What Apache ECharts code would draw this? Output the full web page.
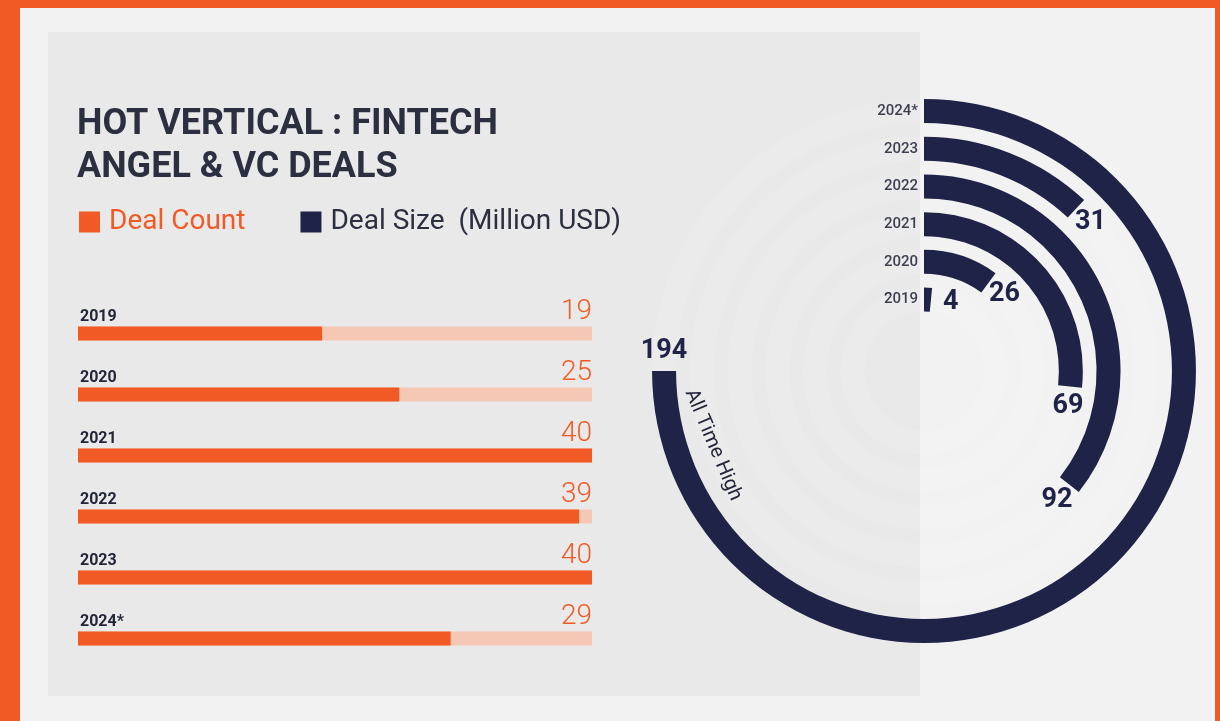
<!DOCTYPE html>
<html>
<head>
<meta charset="utf-8">
<title>Hot Vertical: Fintech — Angel & VC Deals</title>
<script src="https://cdn.jsdelivr.net/npm/echarts@6/dist/echarts.min.js"></script>
<style>
  html, body { margin: 0; padding: 0; background: #f2f2f2; }
  #chart { width: 1220px; height: 721px; }
</style>
</head>
<body>
<div id="chart"></div>
<script>
// Years shown on both panels
const years = ['2019', '2020', '2021', '2022', '2023', '2024*'];
// Number of angel & VC fintech deals per year
const dealCount = [19, 25, 40, 39, 40, 29];
// Deal size per year, million USD
const dealSize = [4, 26, 69, 92, 31, 194];
// Full length of each count track
const countMax = 40;
// Sweep (degrees) of the largest ring
const ringSweep = 270;

const ORANGE = '#f15a24';
const ORANGE_PALE = '#f5c8b5';
const NAVY = '#1f2347';
const INK = '#23263a';
const FONT = 'Roboto, "Noto Sans", "DejaVu Sans", sans-serif';

const sizeAxisMax = Math.max.apply(null, dealSize) * 360 / ringSweep;

const chart = echarts.init(document.getElementById('chart'), null, { renderer: 'canvas' });

chart.setOption({
  backgroundColor: '#f2f2f2',
  animation: false,
  textStyle: { fontFamily: FONT },
  title: {
    text: 'HOT VERTICAL : FINTECH\nANGEL & VC DEALS',
    left: 77,
    top: 103,
    padding: 0,
    textStyle: {
      fontFamily: FONT,
      fontSize: 36,
      fontWeight: 'bold',
      lineHeight: 43,
      color: '#2c2f40'
    }
  },
  legend: {
    left: 79,
    top: 208,
    padding: 0,
    icon: 'rect',
    itemWidth: 21,
    itemHeight: 21,
    itemGap: 55,
    selectedMode: false,
    textStyle: { fontSize: 28, fontFamily: FONT, padding: [0, 0, 0, 4] },
    data: [
      { name: 'Deal Count', textStyle: { color: ORANGE } },
      { name: 'Deal Size  (Million USD)', textStyle: { color: '#2c2f40' } }
    ]
  },
  graphic: [
    { type: 'rect', z: -10, shape: { x: 48, y: 32, width: 872, height: 664 }, style: { fill: '#e9e9e9' } },
    { type: 'rect', z: -5, shape: { x: 0, y: 0, width: 1220, height: 8 }, style: { fill: ORANGE } },
    { type: 'rect', z: -5, shape: { x: 0, y: 0, width: 20, height: 721 }, style: { fill: ORANGE } },
    { type: 'rect', z: -5, shape: { x: 1215, y: 0, width: 5, height: 721 }, style: { fill: ORANGE } },
    {
      type: 'text',
      z: 10,
      x: 713,
      y: 445,
      rotation: -67 * Math.PI / 180,
      style: {
        text: 'All Time High',
        fontFamily: FONT,
        fontSize: 20,
        fill: INK,
        align: 'center',
        verticalAlign: 'middle'
      }
    }
  ],
  grid: { left: 78, top: 303, width: 514, height: 366, containLabel: false },
  xAxis: { type: 'value', min: 0, max: countMax, show: false },
  yAxis: {
    type: 'category',
    data: years,
    inverse: true,
    show: false
  },
  polar: { center: [924, 371], radius: [52.6, 278.8] },
  angleAxis: {
    type: 'value',
    min: 0,
    max: sizeAxisMax,
    startAngle: 90,
    clockwise: true,
    axisLine: { show: false },
    axisTick: { show: false },
    axisLabel: { show: false },
    splitLine: { show: false }
  },
  radiusAxis: {
    type: 'category',
    data: years,
    axisLine: { show: false },
    axisTick: { show: false },
    splitLine: { show: false },
    axisLabel: {
      inside: true,
      interval: 0,
      margin: 6,
      fontSize: 15,
      fontWeight: 500,
      fontFamily: FONT,
      color: INK
    }
  },
  series: [
    {
      name: 'Deal Count Track',
      type: 'bar',
      xAxisIndex: 0,
      yAxisIndex: 0,
      data: years.map(() => countMax),
      barWidth: 14,
      barGap: '-100%',
      z: 1,
      silent: true,
      itemStyle: { color: ORANGE_PALE },
      label: {
        show: true,
        position: ['100%', -1],
        align: 'right',
        verticalAlign: 'bottom',
        formatter: p => String(dealCount[p.dataIndex]),
        fontFamily: FONT,
        fontWeight: 300,
        fontSize: 28,
        color: ORANGE
      }
    },
    {
      name: 'Deal Count',
      type: 'bar',
      xAxisIndex: 0,
      yAxisIndex: 0,
      data: dealCount,
      barWidth: 14,
      barGap: '-100%',
      z: 2,
      itemStyle: { color: ORANGE },
      label: {
        show: true,
        position: [2, -2],
        align: 'left',
        verticalAlign: 'bottom',
        formatter: '{b}',
        fontFamily: FONT,
        fontWeight: 'bold',
        fontSize: 16,
        color: INK
      }
    },
    {
      name: 'Deal Size  (Million USD)',
      type: 'bar',
      coordinateSystem: 'polar',
      data: dealSize,
      barWidth: 24,
      z: 3,
      itemStyle: { color: NAVY },
      showBackground: true,
      backgroundStyle: { color: 'rgba(255,255,255,0.12)' },
      label: {
        show: true,
        position: 'end',
        rotate: 0,
        distance: 20,
        align: 'center',
        verticalAlign: 'middle',
        fontFamily: FONT,
        fontWeight: 'bold',
        fontSize: 27,
        color: NAVY
      }
    }
  ]
});
</script>
</body>
</html>
